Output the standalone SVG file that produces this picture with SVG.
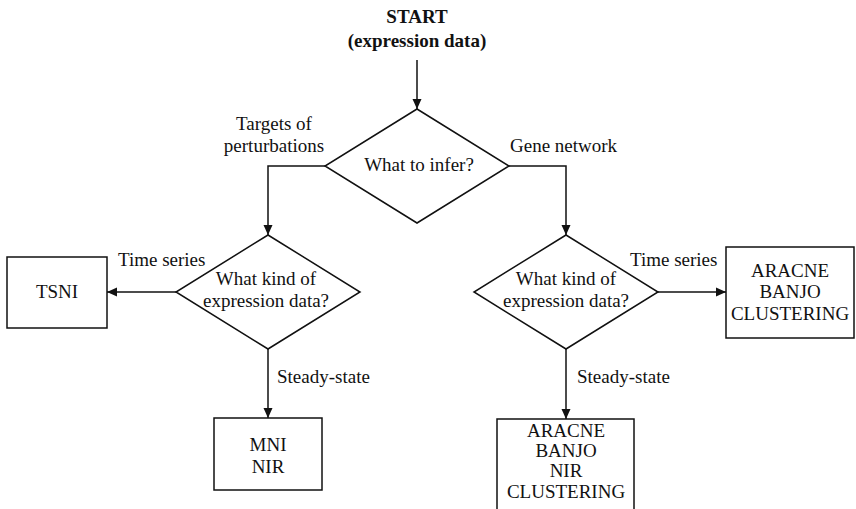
<svg xmlns="http://www.w3.org/2000/svg" width="856" height="509" viewBox="0 0 856 509">
  <style>
    text { font-family: "Liberation Serif", "DejaVu Serif", serif; font-size: 19px; fill: #111; }
    .c { text-anchor: middle; }
    .b { font-weight: bold; font-size: 19px; }
    .shape { fill: #fff; stroke: #111; stroke-width: 1.5; }
    .edge { fill: none; stroke: #111; stroke-width: 1.5; }
  </style>
  <defs>
    <marker id="arrow" viewBox="0 0 10 10" refX="10" refY="5" markerWidth="10" markerHeight="10" markerUnits="userSpaceOnUse" orient="auto">
      <path d="M0,0.5 L10,5 L0,9.5 Z" fill="#111"/>
    </marker>
  </defs>

  <rect width="856" height="509" fill="#fff"/>

  <g id="start">
    <text class="c b" x="417" y="23">START</text>
    <text class="c b" x="417" y="47">(expression data)</text>
  </g>

  <g id="connectors">
    <path class="edge" d="M417,60 V109" marker-end="url(#arrow)"/>
    <path class="edge" d="M325,166 H268 V235" marker-end="url(#arrow)"/>
    <path class="edge" d="M509,166 H566 V235" marker-end="url(#arrow)"/>
    <path class="edge" d="M176,292 H107" marker-end="url(#arrow)"/>
    <path class="edge" d="M268,349 V418" marker-end="url(#arrow)"/>
    <path class="edge" d="M658,292 H726" marker-end="url(#arrow)"/>
    <path class="edge" d="M566,349 V419" marker-end="url(#arrow)"/>
    <text class="c" x="274" y="130">Targets of</text>
    <text class="c" x="274" y="152">perturbations</text>
    <text x="510" y="152">Gene network</text>
    <text x="118" y="266">Time series</text>
    <text x="630" y="266">Time series</text>
    <text x="277" y="383">Steady-state</text>
    <text x="577" y="383">Steady-state</text>
  </g>

  <g id="what-to-infer">
    <polygon class="shape" points="417,109 509,166 417,223 325,166"/>
    <text class="c" x="419" y="171">What to infer?</text>
  </g>

  <g id="kind-left">
    <polygon class="shape" points="268,235 360,292 268,349 176,292"/>
    <text class="c" x="266" y="285">What kind of</text>
    <text class="c" x="266" y="307">expression data?</text>
  </g>

  <g id="kind-right">
    <polygon class="shape" points="566,235 658,292 566,349 474,292"/>
    <text class="c" x="566" y="285">What kind of</text>
    <text class="c" x="566" y="307">expression data?</text>
  </g>

  <g id="tsni">
    <rect class="shape" x="7" y="257" width="100" height="71"/>
    <text class="c" x="57" y="298">TSNI</text>
  </g>

  <g id="mni-nir">
    <rect class="shape" x="214" y="418" width="108" height="72"/>
    <text class="c" x="268" y="451">MNI</text>
    <text class="c" x="268" y="473">NIR</text>
  </g>

  <g id="time-series-methods">
    <rect class="shape" x="726" y="247" width="128" height="91"/>
    <text class="c" x="790" y="277">ARACNE</text>
    <text class="c" x="790" y="298">BANJO</text>
    <text class="c" x="790" y="320">CLUSTERING</text>
  </g>

  <g id="steady-state-methods">
    <rect class="shape" x="497" y="419" width="137" height="100"/>
    <text class="c" x="566" y="437">ARACNE</text>
    <text class="c" x="566" y="457">BANJO</text>
    <text class="c" x="566" y="477">NIR</text>
    <text class="c" x="566" y="498">CLUSTERING</text>
  </g>
</svg>
